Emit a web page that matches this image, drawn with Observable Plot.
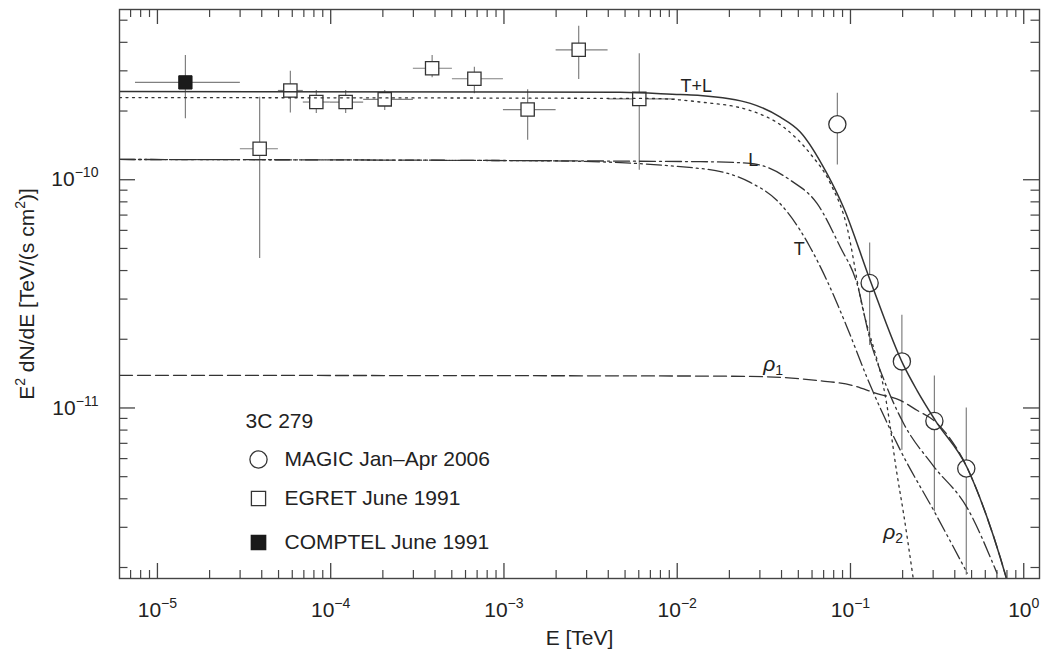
<!DOCTYPE html>
<html><head><meta charset="utf-8">
<script src="https://cdn.jsdelivr.net/npm/d3@7"></script>
<script src="https://cdn.jsdelivr.net/npm/@observablehq/plot@0.6"></script>
<style>
body{margin:0;background:#fff;}
#chart svg{display:block;}
</style>
</head><body><div id="chart"></div>
<script>
// ---------- data ----------
const comptelE = [1.45e-5], comptelElo = [7.47e-6], comptelEhi = [3.01e-5];
const comptelF = [2.67e-10], comptelFlo = [1.85e-10], comptelFhi = [3.50e-10];

const egretE   = [3.89e-5, 5.85e-5, 8.26e-5, 1.22e-4, 2.05e-4, 3.85e-4, 6.75e-4, 1.37e-3, 2.70e-3, 6.04e-3];
const egretElo = [3.01e-5, 4.99e-5, 6.95e-5, 9.95e-5, 1.55e-4, 3.00e-4, 5.04e-4, 9.93e-4, 2.00e-3, 3.99e-3];
const egretEhi = [4.99e-5, 6.95e-5, 9.95e-5, 1.55e-4, 3.00e-4, 5.04e-4, 9.93e-4, 2.00e-3, 3.99e-3, 9.75e-3];
const egretF   = [1.367e-10, 2.46e-10, 2.19e-10, 2.19e-10, 2.25e-10, 3.08e-10, 2.77e-10, 2.03e-10, 3.71e-10, 2.26e-10];
const egretFlo = [4.52e-11, 1.96e-10, 1.95e-10, 1.95e-10, 2.01e-10, 2.80e-10, 2.38e-10, 1.49e-10, 2.75e-10, 1.10e-10];
const egretFhi = [2.30e-10, 2.99e-10, 2.46e-10, 2.46e-10, 2.46e-10, 3.50e-10, 3.11e-10, 2.48e-10, 4.70e-10, 3.56e-10];

const magicE   = [0.084, 0.129, 0.198, 0.305, 0.466];
const magicF   = [1.75e-10, 3.53e-11, 1.60e-11, 8.77e-12, 5.43e-12];
const magicFlo = [1.16e-10, 1.88e-11, 6.53e-12, 3.51e-12, 1.85e-12];
const magicFhi = [2.39e-10, 5.28e-11, 2.55e-11, 1.38e-11, 1.00e-11];

// model curves
const tlE = [6.04e-6, 4.70e-3, 0.01042, 0.01358, 0.02642, 0.03936, 0.0513, 0.0731, 0.0912, 0.130, 0.2023, 0.242, 0.3083, 0.470, 0.614, 0.731, 0.793];
const tlF = [2.436e-10, 2.42e-10, 2.36e-10, 2.34e-10, 2.16e-10, 1.88e-10, 1.62e-10, 1.066e-10, 7.56e-11, 3.62e-11, 1.54e-11, 1.195e-11, 8.83e-12, 5.50e-12, 3.32e-12, 2.22e-12, 1.80e-12];

const rho2E = [6.04e-6, 7.0e-3, 0.01358, 0.02642, 0.0411, 0.0586, 0.0766, 0.0955, 0.114, 0.163, 0.1854, 0.2023, 0.230];
const rho2F = [2.29e-10, 2.27e-10, 2.19e-10, 2.01e-10, 1.70e-10, 1.30e-10, 9.63e-11, 6.20e-11, 3.05e-11, 1.007e-11, 5.16e-12, 3.46e-12, 1.80e-12];

const lE = [6.04e-6, 0.01358, 0.0264, 0.0452, 0.0641, 0.0873, 0.1089, 0.130, 0.159, 0.2023, 0.3006, 0.470, 0.700];
const lF = [1.227e-10, 1.20e-10, 1.18e-10, 9.93e-11, 7.87e-11, 5.07e-11, 3.52e-11, 1.98e-11, 1.28e-11, 8.57e-12, 5.58e-12, 3.67e-12, 1.89e-12];

const tE = [6.04e-6, 1.85e-3, 0.01358, 0.0264, 0.0377, 0.0513, 0.0586, 0.0731, 0.0955, 0.1245, 0.194, 0.3083, 0.472];
const tF = [1.227e-10, 1.21e-10, 1.12e-10, 9.73e-11, 8.11e-11, 6.0e-11, 5.05e-11, 3.62e-11, 2.26e-11, 1.36e-11, 6.53e-12, 3.46e-12, 1.89e-12];

const rho1E = [6.04e-6, 0.01358, 0.033, 0.0641, 0.1019, 0.1422, 0.194, 0.242, 0.302, 0.470, 0.614, 0.731, 0.793];
const rho1F = [1.39e-11, 1.38e-11, 1.37e-11, 1.32e-11, 1.257e-11, 1.156e-11, 1.08e-11, 9.77e-12, 8.83e-12, 5.50e-12, 3.32e-12, 2.22e-12, 1.80e-12];

const curveLabels = ["T+L", "L", "T"];
const curveLabelE = [0.01288, 0.02748, 0.0507];
const curveLabelF = [2.56e-10, 1.215e-10, 4.95e-11];
const rhoLabels = ["ρ_{1}", "ρ_{2}"];
const rhoLabelE = [0.0314, 0.1545];
const rhoLabelF = [1.56e-11, 2.86e-12];

const legendTitle = "3C 279";
const legendNames = ["MAGIC Jan\u2013Apr 2006", "EGRET June 1991", "COMPTEL June 1991"];

const xTicks = [1e-5, 1e-4, 1e-3, 1e-2, 1e-1, 1];
const yTicks = [1e-11, 1e-10];
const xDomain = [6.04e-6, 1.233];
const yDomain = [1.79e-12, 5.57e-10];
const xLabel = "E [TeV]";
const yLabel = "E^{2} dN/dE [TeV/(s cm^{2})]";

// ---------- build tables ----------
const zip = (keys, arrs) => arrs[0].map((_, i) => Object.fromEntries(keys.map((k, j) => [k, arrs[j][i]])));
const errKeys = ["E", "Elo", "Ehi", "F", "Flo", "Fhi"];
const comptel = zip(errKeys, [comptelE, comptelElo, comptelEhi, comptelF, comptelFlo, comptelFhi]);
const egret = zip(errKeys, [egretE, egretElo, egretEhi, egretF, egretFlo, egretFhi]);
const magic = zip(["E", "F", "Flo", "Fhi"], [magicE, magicF, magicFlo, magicFhi]);
const curve = (E, F) => zip(["E", "F"], [E, F]);
const labels = zip(["text", "E", "F"], [curveLabels, curveLabelE, curveLabelF]);
const rhoLab = zip(["text", "E", "F"], [rhoLabels, rhoLabelE, rhoLabelF]);

const minorOf = (lo, hi) => {
  const out = [];
  for (let p = Math.floor(Math.log10(lo)); p <= Math.ceil(Math.log10(hi)); p++)
    for (let m = 2; m <= 9; m++) { const v = m * 10 ** p; if (v > lo * 1.001 && v < hi * 0.999) out.push(v); }
  return out;
};
const xMinor = minorOf(xDomain[0], xDomain[1]);
const yMinor = minorOf(yDomain[0], yDomain[1]);

const W = 1042, H = 650;
const M = {top: 9, right: 3, bottom: 72, left: 119};
const iw = W - M.left - M.right, ih = H - M.top - M.bottom;
const ink = "#333";
const bar = "#808080";
const fam = "'Liberation Sans', Arial, Helvetica, sans-serif";

const lineStyle = {x: "E", y: "F", stroke: ink, strokeWidth: 1.3, curve: "monotone-x", clip: true};

const fmtExp = d => `10^{${String(Math.round(Math.log10(d))).replace("-", "\u2212")}}`;

const chart = Plot.plot({
  width: W, height: H,
  marginTop: M.top, marginRight: M.right, marginBottom: M.bottom, marginLeft: M.left,
  style: {fontFamily: fam, fontSize: "20px", color: "#222", background: "white"},
  x: {type: "log", domain: xDomain, axis: null},
  y: {type: "log", domain: yDomain, axis: null},
  marks: [
    // error bars
    Plot.ruleY(egret, {y: "F", x1: "Elo", x2: "Ehi", stroke: bar, strokeWidth: 1.2}),
    Plot.ruleX(egret, {x: "E", y1: "Flo", y2: "Fhi", stroke: bar, strokeWidth: 1.2}),
    Plot.ruleY(comptel, {y: "F", x1: "Elo", x2: "Ehi", stroke: bar, strokeWidth: 1.2}),
    Plot.ruleX(comptel, {x: "E", y1: "Flo", y2: "Fhi", stroke: bar, strokeWidth: 1.2}),
    Plot.ruleX(magic, {x: "E", y1: "Flo", y2: "Fhi", stroke: bar, strokeWidth: 1.2}),
    // markers
    Plot.dot(egret, {x: "E", y: "F", symbol: "square", r: 7.5, fill: "white", stroke: ink, strokeWidth: 1.3}),
    Plot.dot(comptel, {x: "E", y: "F", symbol: "square", r: 7.5, fill: "#1a1a1a", stroke: "#1a1a1a", strokeWidth: 1}),
    Plot.dot(magic, {x: "E", y: "F", r: 8.6, fill: "white", stroke: ink, strokeWidth: 1.3}),
    // model curves
    Plot.line(curve(rho1E, rho1F), {...lineStyle, strokeDasharray: "13,5"}),
    Plot.line(curve(tE, tF), {...lineStyle, strokeDasharray: "15,4,2,4,2,4"}),
    Plot.line(curve(lE, lF), {...lineStyle, strokeDasharray: "16,4,2,4"}),
    Plot.line(curve(rho2E, rho2F), {...lineStyle, strokeDasharray: "2,4.5"}),
    Plot.line(curve(tlE, tlF), {...lineStyle, strokeWidth: 1.5}),
    // curve labels
    Plot.text(labels, {x: "E", y: "F", text: "text", fontSize: 18, textAnchor: "middle", lineAnchor: "middle"}),
    Plot.text(rhoLab, {x: "E", y: "F", text: "text", fontSize: 21, fontStyle: "italic", textAnchor: "start", lineAnchor: "middle"}),
    // frame and inward ticks
    Plot.frame({stroke: "#444", strokeWidth: 1.4}),
    Plot.tickX(xTicks, {x: d => d, insetTop: ih - 15, stroke: "#444", strokeWidth: 1.3}),
    Plot.tickX(xTicks, {x: d => d, insetBottom: ih - 15, stroke: "#444", strokeWidth: 1.3}),
    Plot.tickX(xMinor, {x: d => d, insetTop: ih - 8, stroke: "#444", strokeWidth: 1.2}),
    Plot.tickX(xMinor, {x: d => d, insetBottom: ih - 8, stroke: "#444", strokeWidth: 1.2}),
    Plot.tickY(yTicks, {y: d => d, insetRight: iw - 16, stroke: "#444", strokeWidth: 1.3}),
    Plot.tickY(yTicks, {y: d => d, insetLeft: iw - 16, stroke: "#444", strokeWidth: 1.3}),
    Plot.tickY(yMinor, {y: d => d, insetRight: iw - 8.5, stroke: "#444", strokeWidth: 1.2}),
    Plot.tickY(yMinor, {y: d => d, insetLeft: iw - 8.5, stroke: "#444", strokeWidth: 1.2}),
    // tick labels
    Plot.text(xTicks, {x: d => d, text: fmtExp, frameAnchor: "bottom", dy: 38, lineAnchor: "bottom", textAnchor: "middle", fontSize: 21}),
    Plot.text(yTicks, {y: d => d, text: fmtExp, frameAnchor: "left", dx: -21, lineAnchor: "middle", textAnchor: "end", fontSize: 21}),
    // axis labels
    Plot.text([xLabel], {text: d => d, frameAnchor: "bottom", dy: 66, lineAnchor: "bottom", textAnchor: "middle", fontSize: 21}),
    Plot.text([yLabel], {text: d => d, frameAnchor: "left", dx: -86, rotate: -90, lineAnchor: "bottom", textAnchor: "middle", fontSize: 21}),
    // legend (inside the frame, bottom-left)
    Plot.text([legendTitle], {text: d => d, frameAnchor: "bottom-left", dx: 126, dy: -151, lineAnchor: "bottom", textAnchor: "start", fontSize: 21}),
    Plot.dot([0], {frameAnchor: "bottom-left", dx: 139, dy: -119, r: 8.6, fill: "white", stroke: ink, strokeWidth: 1.3}),
    Plot.dot([0], {frameAnchor: "bottom-left", dx: 139, dy: -80, symbol: "square", r: 8, fill: "white", stroke: ink, strokeWidth: 1.3}),
    Plot.dot([0], {frameAnchor: "bottom-left", dx: 139, dy: -36, symbol: "square", r: 8, fill: "#1a1a1a", stroke: "#1a1a1a"}),
    Plot.text([legendNames[0]], {text: d => d, frameAnchor: "bottom-left", dx: 165, dy: -119, lineAnchor: "middle", textAnchor: "start", fontSize: 21}),
    Plot.text([legendNames[1]], {text: d => d, frameAnchor: "bottom-left", dx: 165, dy: -80, lineAnchor: "middle", textAnchor: "start", fontSize: 21}),
    Plot.text([legendNames[2]], {text: d => d, frameAnchor: "bottom-left", dx: 165, dy: -36, lineAnchor: "middle", textAnchor: "start", fontSize: 21})
  ]
});

// turn ^{..} and _{..} into real superscript / subscript tspans
d3.select(chart).selectAll("text").each(function () {
  const s = this.textContent;
  if (!/[\^_]\{/.test(s)) return;
  const parts = s.split(/([\^_]\{[^}]*\})/);
  this.textContent = "";
  for (const p of parts) {
    if (!p) continue;
    const m = p.match(/^([\^_])\{([^}]*)\}$/);
    const ts = d3.select(this).append("tspan").text(m ? m[2] : p);
    if (m) ts.attr("font-size", "67%").attr("baseline-shift", m[1] === "^" ? "0.62em" : "-0.3em").attr("font-style", "normal");
  }
});

document.getElementById("chart").append(chart);
</script>
</body></html>
